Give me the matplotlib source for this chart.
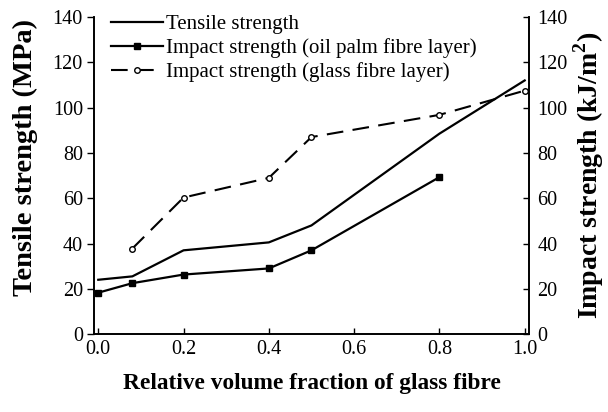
import numpy as np
import matplotlib
matplotlib.use('Agg')
import matplotlib.pyplot as plt

plt.rcParams['font.family'] = ['Liberation Serif', 'DejaVu Serif']
plt.rcParams['mathtext.fontset'] = 'custom'
plt.rcParams['mathtext.rm'] = 'Liberation Serif'
plt.rcParams['mathtext.bf'] = 'Liberation Serif:bold'

# --- Datos ---
x_tens = [0.0, 0.08, 0.2, 0.4, 0.5, 0.8, 1.0]
tensile = [24, 25.5, 37, 40.5, 48, 88.5, 112]

x_oil = [0.0, 0.08, 0.2, 0.4, 0.5, 0.8]
impact_oil = [18.3, 22.5, 26.3, 29, 37, 69.3]

x_glass = [0.08, 0.2, 0.4, 0.5, 0.8, 1.0]
impact_glass = [37.8, 60.3, 69, 87, 96.8, 107.5]

xticks = [0.0, 0.2, 0.4, 0.6, 0.8, 1.0]
yticks = [0, 20, 40, 60, 80, 100, 120, 140]

# --- Figura ---
fig = plt.figure(figsize=(6.08, 4.12), dpi=100)
ax = fig.add_axes([0.1546, 0.189, 0.7154, 0.7697])
ax2 = ax.twinx()

l1, = ax.plot(x_tens, tensile, color='black', linewidth=1.6, label='Tensile strength')
l2, = ax2.plot(x_oil, impact_oil, color='black', linewidth=1.6, marker='s', markersize=4.5,
               label='Impact strength (oil palm fibre layer)')
l3, = ax2.plot(x_glass, impact_glass, color='black', linewidth=1.5, linestyle=(0, (8, 4.5)),
               marker='o', markersize=4, markerfacecolor='white', markeredgewidth=1.0,
               label='Impact strength (glass fibre layer)')

ax.set_xlim(-0.01, 1.01)
ax.set_ylim(0, 140)
ax2.set_ylim(0, 140)
ax.set_xticks(xticks)
ax.set_xticklabels(['%.1f' % v for v in xticks])
ax.set_yticks(yticks)
ax2.set_yticks(yticks)

ax.spines['top'].set_visible(False)
ax2.spines['top'].set_visible(False)
for a in (ax, ax2):
    for sp in a.spines.values():
        sp.set_linewidth(1.2)

ax.tick_params(axis='y', direction='out', length=5, width=1, labelsize=14.5, pad=3)
ax.tick_params(axis='x', direction='in', length=4, width=1, labelsize=14.5, pad=4)
ax2.tick_params(axis='y', direction='in', length=4, width=1, labelsize=14.5, pad=6)

ax.set_xlabel('Relative volume fraction of glass fibre', fontsize=16.8, fontweight='bold', labelpad=10)
ax.set_ylabel('Tensile strength (MPa)', fontsize=20.5, fontweight='bold')
ax.yaxis.set_label_coords(-0.128, 0.557)
ax2.set_ylabel(r'Impact strength (kJ/m$^\mathbf{2}$)', fontsize=20, fontweight='bold', labelpad=3)

ax.legend(handles=[l1, l2, l3], loc='upper left', frameon=False, fontsize=15,
          handlelength=2.5, handletextpad=0.15, labelspacing=0.2,
          borderaxespad=0.0, bbox_to_anchor=(0.02, 1.035))

fig.savefig('out.png', dpi=100)
